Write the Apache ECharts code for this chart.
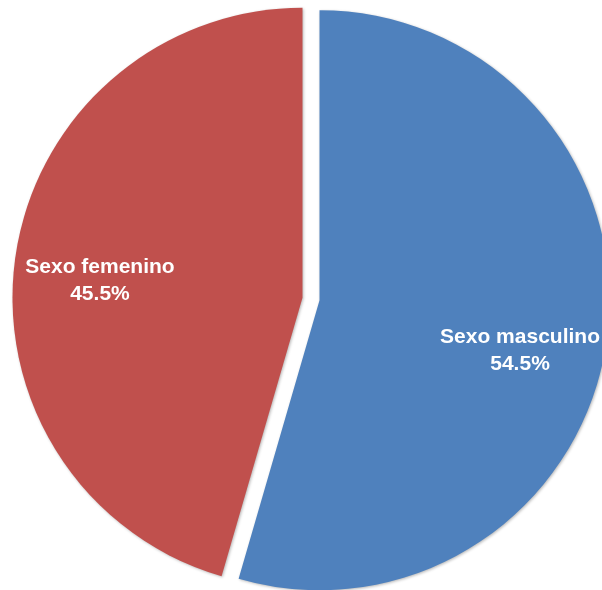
<!DOCTYPE html>
<html>
<head>
<meta charset="utf-8">
<style>
  html, body { margin: 0; padding: 0; background: #ffffff; }
  #chart { width: 602px; height: 590px; }
</style>
<script src="https://cdn.jsdelivr.net/npm/echarts@6/dist/echarts.min.js"></script>
</head>
<body>
<div id="chart"></div>
<script>
// Distribution by sex (percent)
const categories = ['Sexo masculino', 'Sexo femenino'];
const values = [54.5, 45.5];
const colors = ['#4F81BD', '#C0504D'];

// Padding that nudges each inside label off the sector's mid point
const labelPadding = [[60, 0, 0, 108], [8, 112, 0, 0]];

const labelFont = {
  color: '#ffffff',
  fontFamily: 'Liberation Sans, Arial, sans-serif',
  fontWeight: 'bold',
  fontSize: 21,
  lineHeight: 27
};

const chart = echarts.init(document.getElementById('chart'), null, { renderer: 'canvas' });

chart.setOption({
  animation: false,
  backgroundColor: '#ffffff',
  series: [{
    type: 'pie',
    center: [311, 299],
    radius: [0, 290],
    startAngle: 90,
    clockwise: true,
    selectedMode: 'multiple',
    selectedOffset: 8.6,
    emphasis: { disabled: true },
    avoidLabelOverlap: false,
    itemStyle: {
      borderWidth: 0,
      shadowBlur: 3,
      shadowColor: 'rgba(0,0,0,0.28)',
      shadowOffsetX: 1,
      shadowOffsetY: 1
    },
    label: Object.assign({
      show: true,
      position: 'inside',
      align: 'center',
      verticalAlign: 'middle',
      formatter: p => '{t|' + p.name + '}\n{t|' + p.value.toFixed(1) + '%}',
      rich: { t: Object.assign({ align: 'center' }, labelFont) }
    }, labelFont),
    labelLine: { show: false },
    data: categories.map((name, i) => ({
      name: name,
      value: values[i],
      selected: true,
      itemStyle: { color: colors[i] },
      label: { padding: labelPadding[i] }
    }))
  }]
});
</script>
</body>
</html>
